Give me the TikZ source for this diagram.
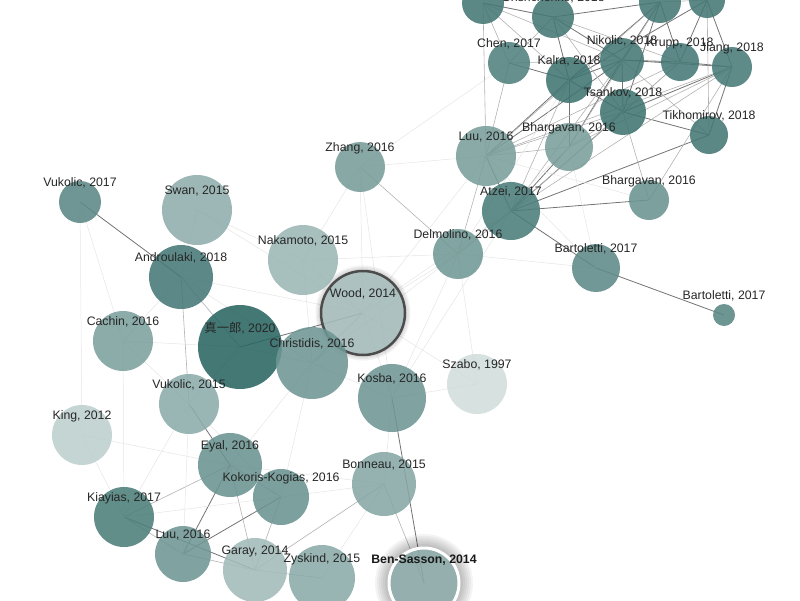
\documentclass[tikz,border=0pt]{standalone}
\usepackage{fontspec}
\setmainfont{Liberation Sans}
\newfontfamily\cjk{Noto Sans CJK JP}
\usetikzlibrary{backgrounds}
\definecolor{netteal}{HTML}{2A6561}

\begin{document}
\begin{tikzpicture}[x=1pt,y=-1pt,
  paper/.style={circle, inner sep=0pt, fill opacity=0.88, draw=none},
  lbl/.style={font=\fontsize{12.3}{14}\selectfont, text=black!85, inner sep=0pt},
  strong/.style={draw=black!55, line width=0.8pt},
  link/.style={draw=black!30, line width=0.6pt},
  faint/.style={draw=black!10, line width=0.5pt}]
\clip (0,0) rectangle (800,600);

% Highlighted paper under the others
\node[paper, minimum size=84, fill=netteal!42, draw=black!70, line width=2.5pt] (wood) at (363,313) {};

% Papers: name/x/y/radius/shade
\foreach \n/\x/\y/\r/\s in {
  c1/483/3/21/88, gri/553/17/21/88, c3/660/2/21/88, c4/707/0/18/88,
  chen/509/63/21/82, kalra/569/80/23/90, nikolic/622/60/22/88,
  krupp/680/62/19/87, jiang/732/67/20/86, tsankov/623/112/23/90,
  tikh/709/135/19/88, luuA/486/156/30/63, bharA/569/147/24/63,
  atzei/511/211/29/85, bharB/649/200/20/70, bartA/596/268/24/76,
  bartB/724/315/11/78, zhang/360/167/25/64, delm/458/254/25/67,
  naka/303/260/35/47, swan/197/210/35/53, vukA/80/202/21/77,
  andr/181/277/32/87, cachin/123/341/30/62, shin/240/347/42/100,
  christ/312/363/36/68, szabo/477/384/30/22, kosba/392/398/34/68,
  vukB/189/404/30/54, king/82/435/30/31, eyal/230/465/32/70,
  bonneau/384/484/32/57, kokoris/281/497/28/70, kiayias/124/517/30/84,
  luuB/183/554/28/68, garay/255/570/32/44, zyskind/322/578/33/55}
  \node[paper, minimum size=2*\r, fill=netteal!\s] (\n) at (\x,\y) {};

\node[paper, minimum size=70, fill=netteal!53, draw=white, line width=3pt] (benS) at (424,583) {};

% Citation links
\begin{pgfonlayer}{background}
\foreach \a/\b in {vukA/andr, bartA/bartB, shin/wood, kokoris/luuB, eyal/vukB,
  kiayias/garay, eyal/luuB, gri/kalra, gri/nikolic, kalra/nikolic, kalra/tsankov,
  nikolic/krupp, nikolic/tsankov, nikolic/c3, krupp/c3, krupp/jiang, jiang/c4,
  tsankov/tikh, c3/kalra, c4/krupp, chen/kalra, c1/gri, luuA/kalra, luuA/nikolic,
  atzei/tsankov, atzei/bharA, atzei/luuA, atzei/tikh, bharA/kalra, bharA/nikolic,
  bharB/atzei, bartA/atzei, kosba/benS, tsankov/jiang, tikh/jiang, gri/c3,
  c3/tsankov, c4/kalra, nikolic/jiang}
  \draw[strong] (\a.center) -- (\b.center);
\foreach \a/\b in {c1/kalra, c1/nikolic, chen/nikolic, chen/gri, gri/tsankov,
  gri/krupp, luuA/tsankov, luuA/krupp, luuA/jiang, luuA/c3, luuA/chen,
  bharA/tsankov, bharA/c3, bharA/jiang, bharA/luuA, atzei/jiang, atzei/kalra,
  atzei/nikolic, atzei/krupp, tikh/c4, tikh/nikolic, krupp/tsankov, bharB/tsankov,
  bharB/jiang, delm/luuA, delm/atzei, zhang/delm, garay/bonneau, eyal/garay,
  kiayias/eyal, kiayias/luuB, luuB/garay, eyal/kokoris, kokoris/garay,
  bonneau/benS, christ/wood, andr/vukB, andr/shin, garay/zyskind, chen/c1,
  c3/c4, c1/luuA}
  \draw[link] (\a.center) -- (\b.center);
\foreach \a/\b in {zhang/luuA, zhang/kosba, zhang/wood, zhang/naka, wood/luuA,
  wood/atzei, wood/delm, wood/kosba, wood/naka, wood/swan, wood/szabo, wood/andr,
  naka/delm, naka/swan, naka/christ, christ/delm, kosba/delm, kosba/atzei,
  kosba/christ, kosba/bonneau, kosba/szabo, szabo/delm, delm/kalra, delm/bharA,
  andr/cachin, andr/christ, andr/swan, cachin/vukA, cachin/shin, cachin/vukB,
  cachin/kiayias, vukA/king, king/kiayias, king/eyal, vukB/kiayias, vukB/luuB,
  vukB/shin, vukB/kokoris, eyal/bonneau, kokoris/kiayias, kokoris/bonneau,
  bonneau/zyskind, christ/eyal, christ/kokoris, shin/christ, bharA/bartA,
  luuA/bartA, luuA/bharB, zhang/chen, delm/bartA}
  \draw[faint] (\a.center) -- (\b.center);

% Glow round the selected papers
\foreach \k in {1,...,7}
  \fill[black, opacity=0.045] (benS.center) circle [radius=35+2*\k];
\foreach \k in {1,2,3}
  \fill[black, opacity=0.05] (wood.center) circle [radius=43+1.5*\k];
\end{pgfonlayer}

% Labels
\foreach \n/\t in {gri/{Grishchenko, 2018}, chen/{Chen, 2017}, kalra/{Kalra, 2018},
  nikolic/{Nikolic, 2018}, krupp/{Krupp, 2018}, jiang/{Jiang, 2018},
  tsankov/{Tsankov, 2018}, tikh/{Tikhomirov, 2018}, luuA/{Luu, 2016},
  bharA/{Bhargavan, 2016}, atzei/{Atzei, 2017}, bharB/{Bhargavan, 2016},
  bartA/{Bartoletti, 2017}, bartB/{Bartoletti, 2017}, zhang/{Zhang, 2016},
  delm/{Delmolino, 2016}, naka/{Nakamoto, 2015}, swan/{Swan, 2015},
  vukA/{Vukolic, 2017}, andr/{Androulaki, 2018}, wood/{Wood, 2014},
  cachin/{Cachin, 2016}, shin/{{\cjk 真一郎}, 2020}, christ/{Christidis, 2016},
  szabo/{Szabo, 1997}, kosba/{Kosba, 2016}, vukB/{Vukolic, 2015},
  king/{King, 2012}, eyal/{Eyal, 2016}, bonneau/{Bonneau, 2015},
  kokoris/{Kokoris-Kogias, 2016}, kiayias/{Kiayias, 2017}, luuB/{Luu, 2016},
  garay/{Garay, 2014}, zyskind/{Zyskind, 2015}}
  \node[lbl] at ([yshift=19pt]\n.center) {\t};
\node[lbl, font=\fontsize{12.3}{14}\selectfont\bfseries, text=black!90] at ([yshift=23pt]benS.center) {Ben-Sasson, 2014};
\end{tikzpicture}
\end{document}
